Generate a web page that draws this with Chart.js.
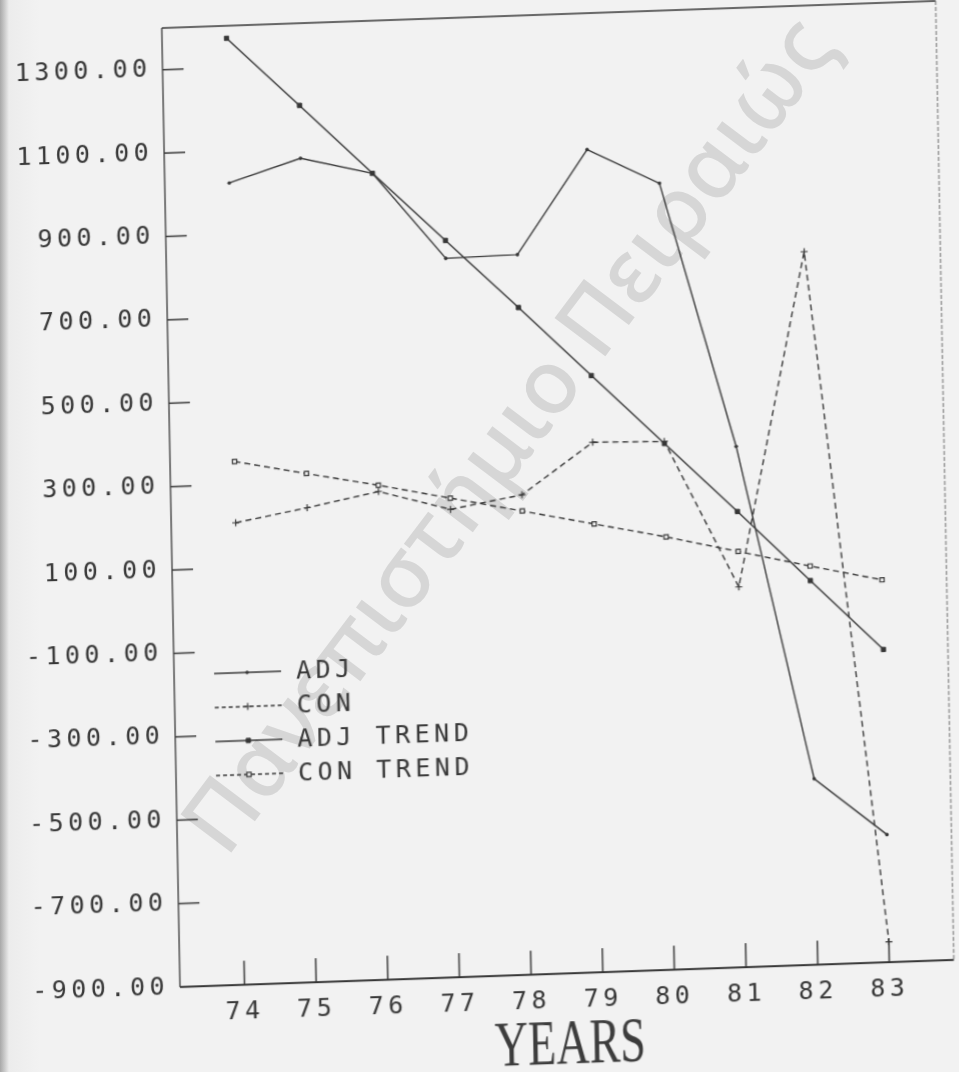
<!DOCTYPE html>
<html>
<head>
<meta charset="utf-8">
<script src="https://cdn.jsdelivr.net/npm/chart.js@4.4.0/dist/chart.umd.min.js"></script>
<style>
  html, body { margin: 0; padding: 0; }
  body {
    width: 959px; height: 1072px; overflow: hidden; position: relative;
    background: linear-gradient(to right, #a8a8a8 0px, #c6c6c6 4px, #ececec 9px, #f2f2f2 40px);
  }
  #stamp {
    position: absolute; left: 505px; top: 432px;
    transform: translate(-50%, -50%) rotate(-53deg);
    font: 500 89px "Noto Sans", "Open Sans", sans-serif;
    color: #d6d6d6; white-space: nowrap;
  }
  /* the printed sheet sits slightly askew */
  #sheet {
    position: absolute; left: 0; top: 0; width: 959px; height: 1110px;
    transform-origin: 180px 987px;
    transform: matrix(1, -0.035, 0.019, 1, 0, 0);
  }
</style>
</head>
<body>
<div id="stamp">Πανεπιστήμιο Πειραιώς</div>
<div id="sheet"><canvas id="chart" width="959" height="1110"></canvas></div>
<script>
// ── series ─────────────────────────────────────────────
const years = [74, 75, 76, 77, 78, 79, 80, 81, 82, 83];
const adj = [1023, 1076, 1034, 824, 827, 1073, 986, 349, -454, -594];
const con = [208, 238, 271, 222, 251, 371, 367, 12, 810, -851];
const adjTrend = [1370, 1203, 1034, 867, 700, 531, 362, 193, 21, -150];
const conTrend = [355, 320, 286, 249, 212, 175, 138, 97, 56, 17];
const yTicks = [-900, -700, -500, -300, -100, 100, 300, 500, 700, 900, 1100, 1300];
const seriesNames = ["ADJ", "CON", "ADJ TREND", "CON TREND"];

const INK = "#363636";
const PAPER = "#f2f2f2";
const MONO = { family: "'DejaVu Sans Mono', monospace", size: 25 };

const pts = (vals) => years.map((x, i) => ({ x, y: vals[i] }));

function seg(ctx, x1, y1, x2, y2, w) {
  ctx.lineWidth = w;
  ctx.beginPath();
  ctx.moveTo(x1, y1);
  ctx.lineTo(x2, y2);
  ctx.stroke();
}

// plotter lettering is wide-set
const spacing = {
  id: "spacing",
  beforeDraw(chart) { chart.ctx.letterSpacing = "4.5px"; },
};

// box round the plot, with tick marks pointing inward
const frame = {
  id: "frame",
  beforeDatasetsDraw(chart) {
    const { ctx, chartArea: a, scales: { x, y } } = chart;
    ctx.save();
    ctx.strokeStyle = INK;
    seg(ctx, a.left, a.top, a.left, a.bottom, 1.3);
    seg(ctx, a.left, a.bottom, a.right, a.bottom, 2);
    seg(ctx, a.left, a.top, a.right, a.top, 1.6);
    ctx.setLineDash([4, 2]);
    ctx.strokeStyle = "#6a6a6a";
    seg(ctx, a.right, a.top, a.right, a.bottom, 1);
    ctx.setLineDash([]);
    ctx.strokeStyle = INK;
    y.ticks.forEach((t) => {
      const py = y.getPixelForValue(t.value);
      seg(ctx, a.left, py, a.left + 21, py, 1.5);
    });
    x.ticks.forEach((t) => {
      const px = x.getPixelForValue(t.value);
      seg(ctx, px, a.bottom, px, a.bottom - 24, 1.5);
    });
    ctx.restore();
  },
};

// key drawn inside the plot, lower left
const key = {
  id: "key",
  afterDatasetsDraw(chart) {
    const ctx = chart.ctx;
    ctx.save();
    ctx.font = `${MONO.size}px ${MONO.family}`;
    ctx.textBaseline = "middle";
    ctx.textAlign = "left";
    chart.data.datasets.forEach((ds, i) => {
      const yy = 675 + 34 * i;
      ctx.strokeStyle = INK;
      ctx.setLineDash(ds.borderDash ? [4, 3] : []);
      seg(ctx, 220, yy, 287, yy, 1.3);
      ctx.setLineDash([]);
      ctx.fillStyle = ds.pointBackgroundColor;
      ctx.lineWidth = ds.pointBorderWidth;
      Chart.helpers.drawPoint(ctx, {
        pointStyle: ds.pointStyle, radius: ds.pointRadius,
        borderWidth: ds.pointBorderWidth, rotation: 0,
      }, 253, yy);
      ctx.fillStyle = INK;
      ctx.fillText(ds.label, 302, yy + 1);
    });
    ctx.restore();
  },
};

// axis caption, tall serif capitals
const caption = {
  id: "caption",
  afterDraw(chart) {
    const ctx = chart.ctx;
    ctx.save();
    ctx.letterSpacing = "0px";
    ctx.fillStyle = "#3c3c3c";
    ctx.font = "46px 'Liberation Serif', serif";
    ctx.textAlign = "center";
    ctx.textBaseline = "alphabetic";
    ctx.translate(569, 1077);
    ctx.scale(1, 1.36);
    ctx.fillText("YEARS", 0, 0);
    ctx.restore();
  },
};

new Chart(document.getElementById("chart"), {
  type: "line",
  data: {
    datasets: [
      {
        label: seriesNames[0], data: pts(adj),
        borderColor: INK, borderWidth: 1.4,
        pointStyle: "circle", pointRadius: 1.8,
        pointBackgroundColor: INK, pointBorderColor: INK, pointBorderWidth: 0,
      },
      {
        label: seriesNames[1], data: pts(con),
        borderColor: INK, borderWidth: 1.4, borderDash: [6, 4],
        pointStyle: "cross", pointRadius: 3.5,
        pointBackgroundColor: INK, pointBorderColor: INK, pointBorderWidth: 1.2,
      },
      {
        label: seriesNames[2], data: pts(adjTrend),
        borderColor: INK, borderWidth: 1.4,
        pointStyle: "rect", pointRadius: 3,
        pointBackgroundColor: INK, pointBorderColor: INK, pointBorderWidth: 1,
      },
      {
        label: seriesNames[3], data: pts(conTrend),
        borderColor: INK, borderWidth: 1.4, borderDash: [6, 4],
        pointStyle: "rect", pointRadius: 3,
        pointBackgroundColor: PAPER, pointBorderColor: INK, pointBorderWidth: 1.2,
      },
    ],
  },
  options: {
    responsive: false,
    animation: false,
    devicePixelRatio: 1,
    layout: { padding: { top: 28, right: 2, left: 0, bottom: 0 } },
    elements: { line: { tension: 0 } },
    plugins: { legend: { display: false }, tooltip: { enabled: false } },
    scales: {
      x: {
        type: "linear", min: 73.1, max: 83.9,
        afterBuildTicks: (s) => { s.ticks = years.map((v) => ({ value: v })); },
        afterFit: (s) => { s.height = 1110 - 987; },
        grid: { display: false, drawTicks: false },
        border: { display: false },
        ticks: { font: MONO, color: INK, padding: 12, maxRotation: 0, autoSkip: false,
                 callback: (v) => String(v) },
      },
      y: {
        min: -900, max: 1400,
        afterBuildTicks: (s) => { s.ticks = yTicks.map((v) => ({ value: v })); },
        afterFit: (s) => { s.width = 180; },
        grid: { display: false, drawTicks: false },
        border: { display: false },
        ticks: { font: MONO, color: INK, padding: 11, callback: (v) => v.toFixed(2) },
      },
    },
  },
  plugins: [spacing, frame, key, caption],
});
</script>
</body>
</html>
